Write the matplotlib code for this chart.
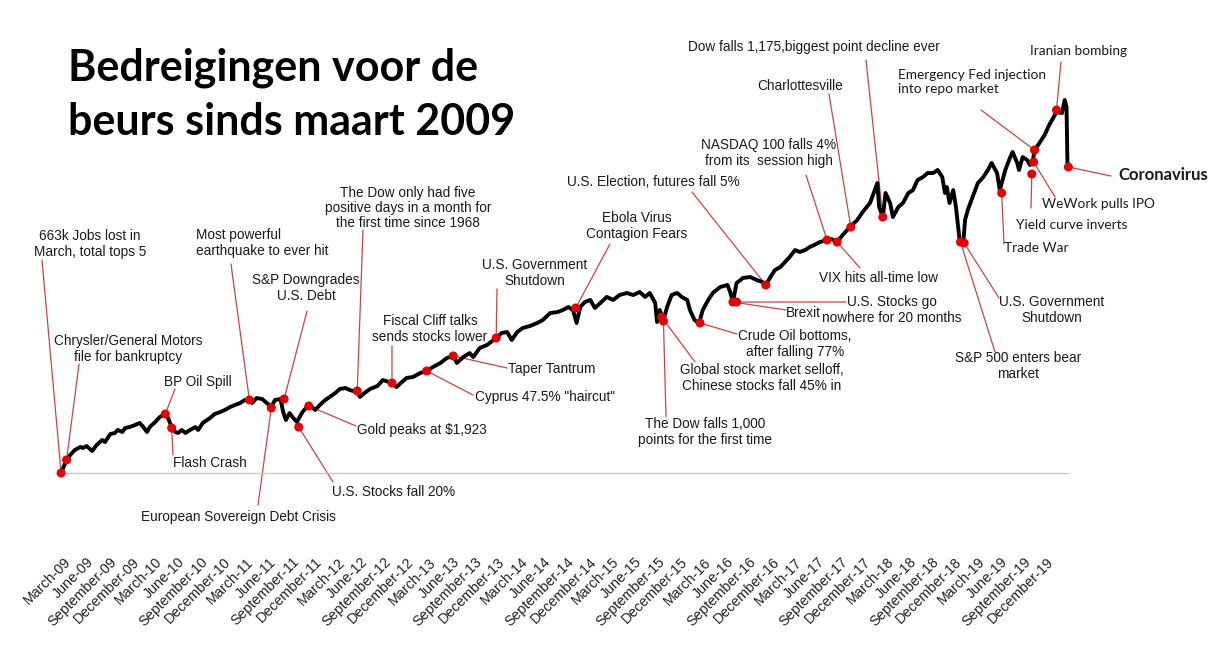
import matplotlib
matplotlib.use("Agg")
import matplotlib.pyplot as plt
import numpy as np

# S&P 500 path (decimal year, index level)
sp_year = [
    2009.18, 2009.24, 2009.28, 2009.33, 2009.39, 2009.42, 2009.46, 2009.52, 2009.57, 2009.63,
    2009.66, 2009.72, 2009.77, 2009.80, 2009.85, 2009.88, 2009.93, 2009.99,
    2010.04, 2010.08, 2010.12, 2010.15, 2010.21, 2010.26, 2010.32, 2010.35, 2010.39, 2010.43,
    2010.46, 2010.50, 2010.54, 2010.59, 2010.65, 2010.68, 2010.73, 2010.81, 2010.86, 2010.92, 2010.97,
    2011.03, 2011.08, 2011.14, 2011.19, 2011.24, 2011.27, 2011.32, 2011.38, 2011.43, 2011.48,
    2011.52, 2011.58, 2011.61, 2011.64, 2011.68, 2011.72, 2011.76, 2011.82, 2011.87, 2011.90, 2011.96,
    2012.01, 2012.07, 2012.12, 2012.18, 2012.23, 2012.29, 2012.34, 2012.42, 2012.45, 2012.50,
    2012.56, 2012.64, 2012.70, 2012.80, 2012.85, 2012.91, 2012.96,
    2013.03, 2013.11, 2013.18, 2013.25, 2013.33, 2013.40, 2013.47, 2013.51, 2013.58, 2013.65,
    2013.69, 2013.76, 2013.84, 2013.94,
    2014.00, 2014.06, 2014.11, 2014.17, 2014.23, 2014.31, 2014.39, 2014.45, 2014.53, 2014.61,
    2014.67, 2014.73, 2014.78, 2014.82, 2014.86, 2014.91, 2014.97,
    2015.02, 2015.08, 2015.15, 2015.22, 2015.29, 2015.37, 2015.44, 2015.51, 2015.57, 2015.62,
    2015.68, 2015.70, 2015.73, 2015.77, 2015.81, 2015.86, 2015.92, 2015.97,
    2016.03, 2016.06, 2016.11, 2016.16, 2016.20, 2016.26, 2016.31, 2016.39, 2016.47, 2016.50,
    2016.53, 2016.57, 2016.64, 2016.72, 2016.79, 2016.85, 2016.89, 2016.94, 2016.99,
    2017.05, 2017.10, 2017.15, 2017.21, 2017.26, 2017.32, 2017.37, 2017.42, 2017.48, 2017.56,
    2017.61, 2017.67, 2017.73, 2017.81, 2017.89, 2017.95,
    2018.03, 2018.11, 2018.13, 2018.17, 2018.20, 2018.25, 2018.28, 2018.34, 2018.39, 2018.45,
    2018.50, 2018.55, 2018.61, 2018.66, 2018.72, 2018.77, 2018.82, 2018.85, 2018.87, 2018.90,
    2018.94, 2018.97,
    2019.01, 2019.05, 2019.07, 2019.10, 2019.16, 2019.21, 2019.27, 2019.32, 2019.36, 2019.42,
    2019.45, 2019.51, 2019.56, 2019.59, 2019.64, 2019.66, 2019.70, 2019.75, 2019.78, 2019.81,
    2019.83, 2019.89, 2019.94, 2019.99,
    2020.07, 2020.13, 2020.16, 2020.18, 2020.19, 2020.20,
]
sp_level = [
    676, 771, 807, 843, 865, 858, 872, 836, 880, 916,
    901, 960, 967, 989, 974, 1003, 1010, 1025,
    1040, 1010, 974, 1010, 1047, 1083, 1105, 1076, 1010, 974,
    967, 989, 967, 989, 1010, 989, 1040, 1076, 1105, 1119, 1134,
    1156, 1170, 1185, 1207, 1207, 1185, 1221, 1214, 1185, 1156,
    1207, 1214, 1119, 1061, 1112, 1076, 1047, 1119, 1156, 1170, 1134,
    1170, 1207, 1229, 1258, 1287, 1294, 1279, 1265, 1229, 1258,
    1287, 1308, 1352, 1330, 1301, 1338, 1367,
    1374, 1403, 1418, 1447, 1476, 1512, 1527, 1476, 1519, 1548,
    1519, 1585, 1607, 1657,
    1694, 1701, 1643, 1701, 1730, 1745, 1767, 1788, 1839, 1846,
    1861, 1883, 1861, 1767, 1883, 1919, 1934,
    1876, 1912, 1956, 1934, 1970, 1985, 1970, 1992, 1956, 1985,
    1912, 1774, 1861, 1788, 1883, 1970, 1985, 1956,
    1934, 1861, 1788, 1767, 1861, 1934, 1985, 2028, 2043, 1992,
    1919, 2057, 2094, 2101, 2079, 2065, 2043, 2101, 2152,
    2174, 2210, 2246, 2297, 2283, 2297, 2319, 2334, 2355, 2370,
    2377, 2355, 2406, 2464, 2515, 2574,
    2639, 2784, 2610, 2537, 2712, 2639, 2537, 2610, 2639, 2712,
    2733, 2806, 2828, 2857, 2857, 2879, 2828, 2712, 2755, 2639,
    2733, 2610,
    2370, 2348, 2515, 2588, 2697, 2784, 2828, 2879, 2930, 2857,
    2733, 2879, 2966, 3010, 2930, 2879, 2973, 2952, 2915, 2937,
    3024, 3082, 3133, 3206,
    3300, 3293, 3388, 3337, 2930, 2901,
]

# events (red dots)
ev_label = [
    "663k Jobs lost in\nMarch, total tops 5",
    "Chrysler/General Motors\nfile for bankruptcy",
    "BP Oil Spill",
    "Flash Crash",
    "Most powerful\nearthquake to ever hit",
    "European Sovereign Debt Crisis",
    "S&P Downgrades\nU.S. Debt",
    "U.S. Stocks fall 20%",
    "Gold peaks at $1,923",
    "The Dow only had five\npositive days in a month for\nthe first time since 1968",
    "Fiscal Cliff talks\nsends stocks lower",
    'Cyprus 47.5% "haircut"',
    "Taper Tantrum",
    "U.S. Government\nShutdown",
    "Ebola Virus\nContagion Fears",
    "Global stock market selloff,\nChinese stocks fall 45% in",
    "The Dow falls 1,000\npoints for the first time",
    "Crude Oil bottoms,\nafter falling 77%",
    "Brexit",
    "U.S. Stocks go\nnowhere for 20 months",
    "U.S. Election, futures fall 5%",
    "NASDAQ 100 falls 4%\nfrom its  session high",
    "VIX hits all-time low",
    "Charlottesville",
    "Dow falls 1,175,biggest point decline ever",
    "S&P 500 enters bear\nmarket",
    "U.S. Government\nShutdown",
    "Trade War",
    "Yield curve inverts",
    "WeWork pulls IPO",
    "Emergency Fed injection\ninto repo market",
    "Iranian bombing",
    "Coronavirus",
]
ev_year = [2009.18, 2009.24, 2010.32, 2010.39, 2011.24, 2011.48, 2011.62, 2011.78, 2011.89,
           2012.42, 2012.80, 2013.18, 2013.47, 2013.94, 2014.81, 2015.75, 2015.77, 2016.17,
           2016.53, 2016.57, 2016.89, 2017.56, 2017.67, 2017.82, 2018.17, 2019.02, 2019.06,
           2019.47, 2019.80, 2019.82, 2019.83, 2020.07, 2020.20]
ev_level = [676, 771, 1105, 1003, 1207, 1149, 1214, 1010, 1163,
            1272, 1330, 1418, 1527, 1657, 1876, 1810, 1781, 1767,
            1919, 1919, 2043, 2370, 2355, 2464, 2537, 2355, 2348,
            2712, 2850, 2937, 3024, 3315, 2901]

quarter_names = ["March", "June", "September", "December"]
tick_labels = [f"{m}-{y % 100:02d}" for y in range(2009, 2020) for m in quarter_names]

# layout: text position (px), alignment, font, leader start (px)
W, H = 1220, 660
ARIAL = "Liberation Sans"
CAL = "Lato"
layout = [
    (90, 244, "center", ARIAL, (42, 260)),
    (128, 349, "center", ARIAL, (79, 364)),
    (164, 382, "left", ARIAL, (175, 389)),
    (173, 463, "left", ARIAL, (173, 455)),
    (196, 243, "left", ARIAL, (231, 264)),
    (238, 517, "center", ARIAL, (258, 505)),
    (306, 288, "center", ARIAL, (307, 311)),
    (332, 492, "left", ARIAL, (333, 482)),
    (357, 430, "left", ARIAL, (356, 426)),
    (408, 208, "center", ARIAL, (363, 230)),
    (430, 329, "center", ARIAL, (392, 346)),
    (475, 397, "left", ARIAL, (473, 395)),
    (508, 369, "left", ARIAL, (507, 368)),
    (535, 273, "center", ARIAL, (497, 289)),
    (637, 226, "center", ARIAL, (610, 244)),
    (762, 378, "center", ARIAL, (695, 362)),
    (705, 432, "center", ARIAL, (666, 417)),
    (795, 344, "center", ARIAL, (737, 334)),
    (786, 313, "left", ARIAL, (786, 310)),
    (892, 310, "center", ARIAL, (846, 302)),
    (653, 182, "center", ARIAL, (692, 192)),
    (769, 153, "center", ARIAL, (806, 175)),
    (819, 278, "left", ARIAL, (860, 268)),
    (800, 86, "center", ARIAL, (829, 94)),
    (688, 47, "left", ARIAL, (866, 60)),
    (1018, 366, "center", ARIAL, (995, 352)),
    (1052, 310, "center", ARIAL, (999, 298)),
    (1004, 248, "left", CAL, (1004, 244)),
    (1016, 225, "left", CAL, (1031, 208)),
    (1042, 204, "left", CAL, (1055, 197)),
    (898, 82, "left", CAL, (981, 110)),
    (1030, 51, "left", CAL, (1061, 62)),
    (1118, 175, "left", CAL, (1111, 176)),
]

fig = plt.figure(figsize=(W / 100, H / 100), dpi=100)
ax = fig.add_axes([62 / W, (H - 473) / H, (1068 - 62) / W, 473 / H])
ax.set_xlim(2009.19, 2020.196)
ax.set_ylim(676, 4115)

ax.plot(sp_year, sp_level, color="black", lw=2.8, solid_joinstyle="round", clip_on=False, zorder=3)

for i, lab in enumerate(ev_label):
    tx, ty, ha, fam, (lx, ly) = layout[i]
    ax.annotate("", xy=(ev_year[i], ev_level[i]), xycoords="data",
                xytext=(lx, H - ly), textcoords="figure pixels",
                arrowprops=dict(arrowstyle="-", color="#cc4444", lw=0.9, shrinkA=0, shrinkB=0),
                annotation_clip=False, zorder=2)
    bold = lab == "Coronavirus"
    fig.text(tx / W, 1 - ty / H, lab, ha=ha, va="center", family=fam,
             fontsize=12 if bold else 9.8, weight="bold" if bold else "normal",
             color="#1a1a1a", linespacing=1.12, multialignment="center" if ha == "center" else "left")

ax.scatter(ev_year, ev_level, s=42, color="#e60000", edgecolors="none", zorder=5, clip_on=False)

tick_pos = [y + (3 * k + 2.5) / 12 for y in range(2009, 2020) for k in range(4)]
ax.set_xticks(tick_pos)
ax.set_xticklabels(tick_labels, rotation=45, ha="right", rotation_mode="anchor",
                   fontsize=10.3, family=ARIAL, color="#222222")
ax.tick_params(axis="x", length=0, pad=59)
ax.set_yticks([])
for s in ["top", "right", "left"]:
    ax.spines[s].set_visible(False)
ax.spines["bottom"].set_color("#c8c8c8")
ax.spines["bottom"].set_linewidth(1)
ax.patch.set_alpha(0)

# title
fig.text(68 / W, 1 - 80 / H, "Bedreigingen voor de", ha="left", va="baseline",
         family=CAL, weight="bold", fontsize=31, color="black")
fig.text(68 / W, 1 - 135 / H, "beurs sinds maart 2009", ha="left", va="baseline",
         family=CAL, weight="bold", fontsize=31, color="black")

fig.savefig("out.png", dpi=100)
